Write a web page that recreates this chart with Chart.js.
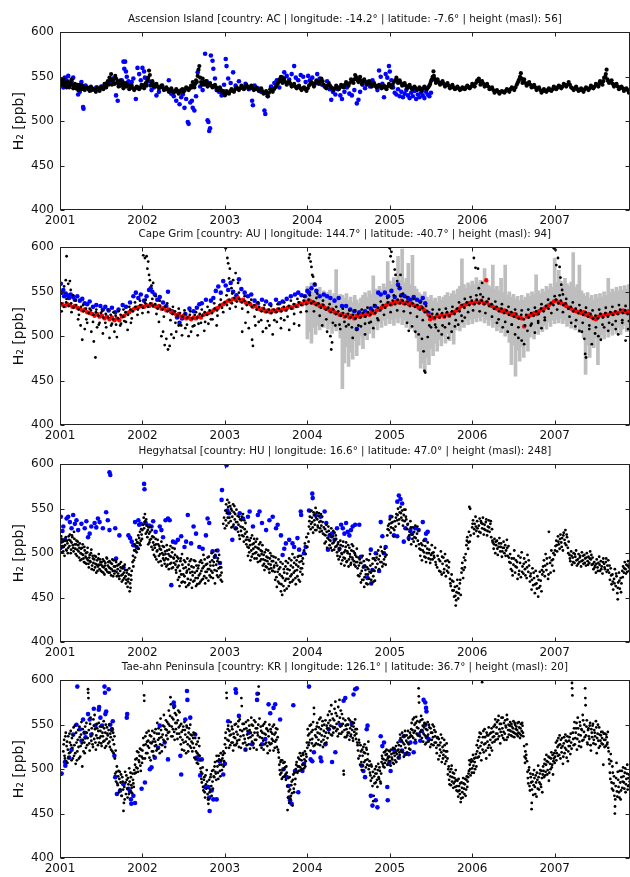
<!DOCTYPE html>
<html>
<head>
<meta charset="utf-8">
<script src="https://cdn.jsdelivr.net/npm/chart.js@4/dist/chart.umd.min.js"></script>
<style>
  html, body { margin: 0; padding: 0; background: #fff; width: 630px; height: 877px; overflow: hidden; }
  canvas { position: absolute; left: 0; }
</style>
</head>
<body>
<canvas id="asc" width="632" height="230" style="top:0px"></canvas>
<canvas id="cgo" width="632" height="230" style="top:215px"></canvas>
<canvas id="hun" width="632" height="230" style="top:432px"></canvas>
<canvas id="kor" width="632" height="230" style="top:648px"></canvas>
<script>
// Time axis: years since 2000 (1.00 = start of 2001). Values: H2 mole fraction in ppb.
const YEAR_TICKS  = [1, 2, 3, 4, 5, 6, 7];
const YEAR_LABELS = ['2001', '2002', '2003', '2004', '2005', '2006', '2007'];
const PPB_TICKS   = [400, 450, 500, 550, 600];

const TITLES = [
  'Ascension Island [country: AC | longitude: -14.2\u00b0 | latitude: -7.6\u00b0 | height (masl): 56]',
  'Cape Grim [country: AU | longitude: 144.7\u00b0 | latitude: -40.7\u00b0 | height (masl): 94]',
  'Hegyhatsal [country: HU | longitude: 16.6\u00b0 | latitude: 47.0\u00b0 | height (masl): 248]',
  'Tae-ahn Peninsula [country: KR | longitude: 126.1\u00b0 | latitude: 36.7\u00b0 | height (masl): 20]'
];

// ---- Ascension Island: flat lists of (year, ppb) pairs ----
const ASC_BLACK = [
1.00,545, 1.02,541, 1.04,548, 1.06,543, 1.08,538, 1.10,544, 1.12,540, 1.14,547, 1.16,537, 1.18,542, 1.20,539, 1.22,535,
1.24,541, 1.26,536, 1.28,539, 1.30,535, 1.33,538, 1.36,534, 1.39,537, 1.42,535, 1.45,538, 1.48,534, 1.51,539, 1.54,542,
1.56,538, 1.58,545, 1.60,549, 1.62,553, 1.63,541, 1.65,547, 1.67,551, 1.69,543, 1.71,539, 1.73,546, 1.75,541, 1.77,537,
1.79,543, 1.81,539, 1.84,536, 1.87,540, 1.90,535, 1.93,539, 1.96,536, 1.99,541, 2.02,537, 2.04,543, 2.06,546, 2.08,557,
2.09,552, 2.10,540, 2.12,545, 2.14,539, 2.17,542, 2.20,537, 2.23,540, 2.26,535, 2.29,538, 2.32,533, 2.35,537, 2.38,532,
2.41,536, 2.44,531, 2.47,535, 2.50,533, 2.53,538, 2.56,535, 2.59,540, 2.61,544, 2.63,538, 2.65,546, 2.67,551, 2.68,558,
2.69,562, 2.71,544, 2.73,548, 2.75,541, 2.77,545, 2.79,539, 2.82,543, 2.85,538, 2.88,541, 2.91,535, 2.94,538, 2.97,532,
3.00,529, 3.02,534, 3.05,531, 3.08,536, 3.11,533, 3.14,538, 3.17,535, 3.20,540, 3.23,536, 3.26,541, 3.29,537, 3.32,540,
3.35,535, 3.38,538, 3.41,534, 3.44,537, 3.47,531, 3.50,534, 3.52,528, 3.55,536, 3.58,533, 3.61,538, 3.64,542, 3.66,547,
3.68,550, 3.70,543, 3.72,548, 3.75,541, 3.78,545, 3.81,539, 3.84,542, 3.87,537, 3.90,540, 3.93,535, 3.96,538, 3.99,534,
4.02,540, 4.05,544, 4.08,539, 4.11,546, 4.14,542, 4.17,548, 4.20,541, 4.23,537, 4.26,543, 4.29,538, 4.32,535, 4.35,540,
4.38,536, 4.41,541, 4.44,538, 4.47,544, 4.50,540, 4.53,547, 4.56,543, 4.58,552, 4.60,548, 4.62,544, 4.64,550, 4.66,542,
4.69,547, 4.72,541, 4.75,545, 4.78,539, 4.81,543, 4.84,538, 4.87,541, 4.90,537, 4.93,540, 4.96,536, 4.99,542, 5.02,538,
5.05,544, 5.08,549, 5.10,543, 5.12,546, 5.15,540, 5.18,543, 5.21,537, 5.24,541, 5.27,536, 5.30,539, 5.33,535, 5.36,538,
5.39,534, 5.42,539, 5.45,536, 5.48,540, 5.50,545, 5.52,550, 5.53,556, 5.54,548, 5.56,543, 5.58,547, 5.61,541, 5.64,545,
5.67,539, 5.70,543, 5.73,537, 5.76,541, 5.79,536, 5.82,539, 5.85,535, 5.88,538, 5.91,536, 5.94,540, 5.97,537, 6.00,542,
6.03,539, 6.06,546, 6.08,548, 6.10,541, 6.12,545, 6.15,539, 6.18,542, 6.21,536, 6.24,538, 6.27,532, 6.30,535, 6.33,531,
6.36,534, 6.39,532, 6.42,536, 6.45,533, 6.48,538, 6.51,535, 6.54,541, 6.56,545, 6.58,550, 6.59,554, 6.61,543, 6.63,547,
6.66,540, 6.69,544, 6.72,538, 6.75,541, 6.78,535, 6.81,538, 6.84,532, 6.87,536, 6.90,533, 6.93,537, 6.96,534, 6.99,539,
7.02,536, 7.05,540, 7.08,537, 7.11,542, 7.14,539, 7.17,544, 7.20,538, 7.23,535, 7.26,539, 7.29,534, 7.32,537, 7.35,533,
7.38,538, 7.41,535, 7.44,540, 7.47,537, 7.50,542, 7.53,539, 7.55,545, 7.58,541, 7.60,549, 7.62,553, 7.63,558, 7.64,547,
7.66,543, 7.69,546, 7.72,539, 7.75,542, 7.78,536, 7.81,539, 7.84,534, 7.87,537, 7.90,532,
1.01,543, 1.03,545, 1.05,540, 1.07,544, 1.09,542, 1.11,538, 1.13,543, 1.15,541, 1.17,539, 1.19,537, 1.21,541, 1.23,538,
1.25,538, 1.27,540, 1.29,536, 1.31,538, 1.345,536, 1.375,539, 1.405,536, 1.435,533, 1.465,536, 1.495,537, 1.525,536,
1.55,540, 1.57,543, 1.59,541, 1.61,546, 1.64,545, 1.66,542, 1.68,548, 1.70,545, 1.72,542, 1.74,540, 1.76,544, 1.78,540,
1.80,542, 1.825,541, 1.855,538, 1.885,537, 1.915,537, 1.945,538, 1.975,538, 2.005,540, 2.03,541, 2.05,540, 2.07,549,
2.11,543, 2.13,542, 2.155,541, 2.185,539, 2.215,538, 2.245,538, 2.275,536, 2.305,536, 2.335,535, 2.365,534, 2.395,534,
2.425,533, 2.455,533, 2.485,536, 2.515,535, 2.545,537, 2.575,537, 2.60,538, 2.62,541, 2.64,542, 2.66,544, 2.70,549,
2.72,541, 2.74,544, 2.76,543, 2.78,542, 2.805,541, 2.835,540, 2.865,539, 2.895,538, 2.925,537, 2.955,535, 2.985,534,
3.01,531, 3.035,532, 3.065,534, 3.095,534, 3.125,536, 3.155,537, 3.185,537, 3.215,538, 3.245,538, 3.275,539, 3.305,538,
3.335,537, 3.365,536, 3.395,536, 3.425,535, 3.455,534, 3.485,532, 3.51,531, 3.535,532, 3.565,534, 3.595,536, 3.625,540,
3.65,544, 3.67,545, 3.69,546, 3.71,546, 3.735,544, 3.765,543, 3.795,542, 3.825,540, 3.855,539, 3.885,539, 3.915,537,
3.945,537, 3.975,536, 4.005,537, 4.035,542, 4.065,542, 4.095,543, 4.125,544, 4.155,545, 4.185,545, 4.215,539, 4.245,540,
4.275,540, 4.305,537, 4.335,537, 4.365,538, 4.395,538, 4.425,539, 4.455,541, 4.485,542, 4.515,543, 4.545,545, 4.57,547,
4.59,550, 4.61,546, 4.63,547, 4.65,546, 4.675,545, 4.705,544, 4.735,543, 4.765,542, 4.795,541, 4.825,540, 4.855,539,
4.885,539, 4.915,538, 4.945,538, 4.975,539, 5.005,540, 5.035,541, 5.065,546, 5.09,546, 5.11,544, 5.135,543, 5.165,541,
5.195,540, 5.225,539, 5.255,538, 5.285,537, 5.315,537, 5.345,536, 5.375,536, 5.405,537, 5.435,537, 5.465,538, 5.49,542,
5.51,547, 5.535,551, 5.55,546, 5.57,545, 5.595,544, 5.625,543, 5.655,542, 5.685,541, 5.715,540, 5.745,539, 5.775,538,
5.805,537, 5.835,537, 5.865,536, 5.895,537, 5.925,538, 5.955,538, 5.985,539, 6.015,540, 6.045,543, 6.07,545, 6.09,545,
6.11,543, 6.135,542, 6.165,540, 6.195,539, 6.225,537, 6.255,535, 6.285,534, 6.315,533, 6.345,533, 6.375,533, 6.405,534,
6.435,535, 6.465,536, 6.495,537, 6.525,538, 6.55,543, 6.57,547, 6.60,548, 6.62,545, 6.645,543, 6.675,542, 6.705,541,
6.735,539, 6.765,538, 6.795,537, 6.825,535, 6.855,534, 6.885,534, 6.915,535, 6.945,535, 6.975,536, 7.005,537, 7.035,538,
7.065,539, 7.095,539, 7.125,541, 7.155,541, 7.185,541, 7.215,537, 7.245,537, 7.275,536, 7.305,535, 7.335,535, 7.365,536,
7.395,537, 7.425,537, 7.455,538, 7.485,539, 7.515,541, 7.54,542, 7.565,543, 7.59,545, 7.615,550, 7.65,545, 7.675,544,
7.705,542, 7.735,541, 7.765,539, 7.795,538, 7.825,537, 7.855,536, 7.885,535, 7.91,533
];
const ASC_BLUE = [
1.00,547, 1.01,541, 1.03,544, 1.04,538, 1.06,549, 1.08,546, 1.10,551, 1.12,543, 1.14,545, 1.16,549, 1.18,540, 1.20,538,
1.22,530, 1.24,533, 1.26,544, 1.28,516, 1.285,514, 1.31,540, 1.34,537, 1.38,535, 1.44,538, 1.50,539, 1.56,541, 1.60,543,
1.64,548, 1.68,529, 1.70,523, 1.72,540, 1.75,546, 1.77,567, 1.79,567, 1.78,559, 1.80,556, 1.81,550, 1.83,545, 1.85,541,
1.87,544, 1.89,548, 1.92,525, 1.94,560, 1.96,553, 1.98,546, 2.00,560, 2.02,556, 2.03,549, 2.05,541, 2.08,545, 2.11,535,
2.14,538, 2.17,529, 2.20,533, 2.24,540, 2.28,536, 2.32,546, 2.35,531, 2.38,528, 2.41,523, 2.43,534, 2.45,519, 2.47,527,
2.49,530, 2.51,515, 2.53,525, 2.55,499, 2.56,497, 2.58,521, 2.60,523, 2.61,515, 2.63,512, 2.65,528, 2.67,555, 2.70,539,
2.73,535, 2.76,576, 2.78,545, 2.79,501, 2.80,499, 2.81,489, 2.82,492, 2.83,574, 2.85,568, 2.86,559, 2.88,548, 2.90,535,
2.93,533, 2.96,529, 2.99,541, 3.01,570, 3.02,562, 3.04,548, 3.07,543, 3.10,555, 3.13,540, 3.17,545, 3.21,538, 3.25,542,
3.29,536, 3.33,523, 3.34,518, 3.36,540, 3.40,537, 3.44,533, 3.48,512, 3.49,508, 3.52,528, 3.56,539, 3.60,543, 3.63,546,
3.66,538, 3.70,549, 3.72,555, 3.75,551, 3.78,547, 3.81,553, 3.84,562, 3.86,549, 3.89,546, 3.92,552, 3.95,550, 3.98,544,
4.01,551, 4.03,546, 4.06,549, 4.09,542, 4.12,553, 4.15,548, 4.18,541, 4.21,539, 4.24,545, 4.27,536, 4.29,524, 4.31,533,
4.34,530, 4.37,536, 4.40,529, 4.42,525, 4.45,533, 4.48,538, 4.51,531, 4.54,529, 4.57,535, 4.60,520, 4.62,524, 4.64,533,
4.67,541, 4.70,537, 4.73,544, 4.76,539, 4.79,546, 4.82,540, 4.85,535, 4.87,557, 4.89,550, 4.91,542, 4.93,527, 4.95,553,
4.97,549, 4.99,562, 5.00,556, 5.02,546, 5.04,538, 5.06,532, 5.08,530, 5.10,536, 5.12,528, 5.14,533, 5.16,527, 5.18,531,
5.20,535, 5.22,529, 5.24,526, 5.26,532, 5.28,528, 5.30,534, 5.32,525, 5.34,530, 5.36,527, 5.38,532, 5.40,529, 5.42,526,
5.44,533, 5.46,530, 5.48,528, 5.50,532
];

// ---- Cape Grim ----
const CGO_RED = [
1.00,535, 1.03,536, 1.06,534, 1.09,536, 1.12,535, 1.15,533, 1.18,534, 1.21,532, 1.24,531, 1.27,529, 1.30,530, 1.33,527,
1.36,526, 1.39,525, 1.42,523, 1.45,525, 1.48,522, 1.51,523, 1.54,520, 1.57,522, 1.60,519, 1.63,521, 1.66,518, 1.69,520,
1.72,518, 1.75,522, 1.78,523, 1.81,526, 1.84,527, 1.87,529, 1.90,531, 1.93,532, 1.96,533, 1.99,534, 2.02,533, 2.05,535,
2.08,534, 2.11,536, 2.14,534, 2.17,533, 2.20,534, 2.23,531, 2.26,532, 2.29,529, 2.32,530, 2.35,527, 2.38,526, 2.41,524,
2.44,525, 2.47,522, 2.50,523, 2.53,520, 2.56,521, 2.59,519, 2.62,521, 2.65,520, 2.68,522, 2.71,521, 2.74,524, 2.77,525,
2.80,526, 2.83,527, 2.86,529, 2.89,531, 2.92,532, 2.95,535, 2.98,536, 3.01,538, 3.04,540, 3.07,539, 3.10,542, 3.13,541,
3.16,543, 3.19,540, 3.22,541, 3.25,538, 3.28,537, 3.31,536, 3.34,533, 3.37,534, 3.40,531, 3.43,530, 3.46,531, 3.49,528,
3.52,529, 3.55,527, 3.58,529, 3.61,528, 3.64,530, 3.67,529, 3.70,531, 3.73,530, 3.76,532, 3.79,533, 3.82,532, 3.85,535,
3.88,534, 3.91,537, 3.94,536, 3.97,539, 4.00,538, 4.03,540, 4.06,538, 4.09,537, 4.12,536, 4.15,534, 4.18,535, 4.21,532,
4.24,531, 4.27,529, 4.30,530, 4.33,527, 4.36,526, 4.39,524, 4.42,525, 4.45,522, 4.48,524, 4.51,521, 4.54,523, 4.57,520,
4.60,523, 4.63,522, 4.66,524, 4.69,523, 4.72,525, 4.75,524, 4.78,527, 4.81,526, 4.84,529, 4.87,530, 4.90,532, 4.93,534,
4.96,535, 4.99,537, 5.02,536, 5.05,538, 5.08,539, 5.11,538, 5.14,540, 5.17,537, 5.20,538, 5.23,536, 5.26,537, 5.29,535,
5.32,534, 5.35,532, 5.38,533, 5.41,530, 5.44,528, 5.47,524, 5.49,519, 5.51,521, 5.54,520, 5.57,523, 5.60,522, 5.63,524,
5.66,522, 5.69,525, 5.72,523, 5.75,526, 5.78,527, 5.81,529, 5.84,531, 5.87,534, 5.90,535, 5.93,536, 5.96,537, 5.99,538,
6.02,537, 6.05,539, 6.08,538, 6.11,540, 6.14,537, 6.17,563, 6.18,538, 6.21,535, 6.24,534, 6.27,532, 6.30,531, 6.33,530,
6.36,528, 6.39,529, 6.42,527, 6.45,526, 6.48,524, 6.51,525, 6.54,522, 6.57,521, 6.60,520, 6.63,511, 6.66,522, 6.69,523,
6.72,524, 6.75,526, 6.78,525, 6.81,528, 6.84,530, 6.87,531, 6.90,533, 6.93,535, 6.96,537, 6.99,539, 7.02,540, 7.05,538,
7.08,537, 7.11,536, 7.14,534, 7.17,532, 7.20,531, 7.23,529, 7.26,528, 7.29,527, 7.32,526, 7.35,527, 7.38,524, 7.41,525,
7.44,522, 7.47,520, 7.50,519, 7.53,522, 7.56,524, 7.59,523, 7.62,525, 7.65,524, 7.68,526, 7.71,525, 7.74,527, 7.77,526,
7.80,528, 7.83,529, 7.86,527, 7.89,528
];
const CGO_BLACK = [
1.015,537, 1.045,533, 1.075,538, 1.105,534, 1.135,537, 1.165,532, 1.195,535, 1.225,530, 1.255,533, 1.285,528, 1.315,531,
1.345,526, 1.375,529, 1.405,524, 1.435,527, 1.465,523, 1.495,526, 1.525,521, 1.555,525, 1.585,521, 1.615,524, 1.645,519,
1.675,523, 1.705,520, 1.735,524, 1.765,522, 1.795,527, 1.825,524, 1.855,530, 1.885,528, 1.915,533, 1.945,530, 1.975,535,
2.005,532, 2.035,537, 2.065,533, 2.095,537, 2.125,534, 2.155,536, 2.185,531, 2.215,534, 2.245,530, 2.275,533, 2.305,528,
2.335,530, 2.365,525, 2.395,528, 2.425,523, 2.455,526, 2.485,522, 2.515,525, 2.545,521, 2.575,524, 2.605,520, 2.635,524,
2.665,521, 2.695,525, 2.725,523, 2.755,527, 2.785,524, 2.815,529, 2.845,526, 2.875,531, 2.905,529, 2.935,535, 2.965,532,
2.995,538, 3.025,535, 3.055,541, 3.085,537, 3.115,543, 3.145,539, 3.175,542, 3.205,538, 3.235,540, 3.265,535, 3.295,538,
3.325,533, 3.355,535, 3.385,530, 3.415,533, 3.445,528, 3.475,531, 3.505,527, 3.535,530, 3.565,526, 3.595,530, 3.625,527,
3.655,531, 3.685,528, 3.715,533, 3.745,529, 3.775,534, 3.805,531, 3.835,536, 3.865,533, 3.895,538, 3.925,535, 3.955,540,
3.985,536, 4.015,541, 4.045,537, 4.075,539, 4.105,535, 4.135,537, 4.165,532, 4.195,535, 4.225,530, 4.255,532, 4.285,527,
4.315,530, 4.345,525, 4.375,528, 4.405,523, 4.435,526, 4.465,522, 4.495,525, 4.525,521, 4.555,524, 4.585,520, 4.615,525,
4.645,521, 4.675,526, 4.705,522, 4.735,527, 4.765,524, 4.795,529, 4.825,526, 4.855,532, 4.885,529, 4.915,535, 4.945,532,
4.975,538, 5.005,535, 5.035,540, 5.065,536, 5.095,541, 5.125,537, 5.155,540, 5.185,536, 5.215,539, 5.245,534, 5.275,537,
5.305,533, 5.335,535, 5.365,530, 5.395,532, 5.425,527, 5.455,528, 5.485,522, 5.515,525, 5.545,521, 5.575,525, 5.605,521,
5.635,526, 5.665,522, 5.695,527, 5.725,523, 5.755,528, 5.785,525, 5.815,531, 5.845,528, 5.875,535, 5.905,532, 5.935,538,
5.965,535, 5.995,540, 6.025,536, 6.055,541, 6.085,537, 6.115,540, 6.145,536, 6.175,539, 6.205,534, 6.235,536, 6.265,531,
6.295,533, 6.325,528, 6.355,531, 6.385,526, 6.415,529, 6.445,524, 6.475,527, 6.505,522, 6.535,525, 6.565,520, 6.595,524,
6.625,519, 6.655,524, 6.685,521, 6.715,526, 6.745,523, 6.775,528, 6.805,525, 6.835,531, 6.865,528, 6.895,534, 6.925,531,
6.955,537, 6.985,535, 7.015,541, 7.045,537, 7.075,540, 7.105,535, 7.135,537, 7.165,531, 7.195,533, 7.225,528, 7.255,531,
7.285,526, 7.315,529, 7.345,524, 7.375,527, 7.405,522, 7.435,525, 7.465,520, 7.495,523, 7.525,520, 7.555,525, 7.585,521,
7.615,526, 7.645,522, 7.675,527, 7.705,524, 7.735,528, 7.765,525, 7.795,530, 7.825,526, 7.855,529, 7.885,525,
// values a little off the baseline
1.02,528, 1.08,542, 1.14,527, 1.19,540, 1.23,524, 1.28,535, 1.32,519, 1.36,531, 1.40,516, 1.44,530, 1.47,513, 1.51,528,
1.55,515, 1.58,530, 1.62,512, 1.65,527, 1.68,513, 1.71,528, 1.74,514, 1.77,530, 1.80,516, 1.84,533, 1.87,520, 1.91,538,
1.94,524, 1.97,540, 2.00,526, 2.04,541, 2.07,527, 2.12,542, 2.17,525, 2.21,540, 2.26,522, 2.30,537, 2.34,518, 2.37,533,
2.40,515, 2.44,531, 2.47,512, 2.51,529, 2.54,513, 2.58,528, 2.61,511, 2.65,527, 2.68,514, 2.72,530, 2.76,516, 2.79,533,
2.83,519, 2.87,537, 2.91,523, 2.95,541, 2.98,527, 3.02,546, 3.06,531, 3.09,548, 3.13,533, 3.17,549, 3.21,531, 3.24,545,
3.28,527, 3.32,541, 3.36,522, 3.40,538, 3.44,518, 3.48,535, 3.52,517, 3.56,534, 3.60,518, 3.64,536, 3.68,520, 3.72,538,
3.76,522, 3.80,540, 3.84,525, 3.88,542, 3.92,527, 3.96,545, 3.99,528, 4.03,546, 4.08,528, 4.11,543, 4.15,523, 4.19,540,
4.23,519, 4.27,536, 4.31,515, 4.35,533, 4.39,513, 4.43,531, 4.47,511, 4.51,529, 4.54,510, 4.58,529, 4.62,512, 4.66,530,
4.70,514, 4.73,532, 4.77,516, 4.81,535, 4.85,520, 4.89,539, 4.93,524, 4.97,543, 5.01,527, 5.05,546, 5.09,529, 5.13,545,
5.17,528, 5.21,544, 5.25,526, 5.29,542, 5.33,522, 5.37,538, 5.40,518, 5.44,534, 5.48,512, 5.52,530, 5.56,510, 5.60,530,
5.64,512, 5.68,531, 5.72,514, 5.76,533, 5.80,518, 5.84,538, 5.87,523, 5.91,542, 5.95,527, 5.98,544, 6.01,529, 6.05,546,
6.09,528, 6.13,544, 6.16,526, 6.20,542, 6.24,522, 6.28,539, 6.32,519, 6.36,536, 6.40,516, 6.44,533, 6.48,513, 6.52,530,
6.56,510, 6.60,529, 6.64,512, 6.68,530, 6.72,514, 6.76,532, 6.80,517, 6.84,536, 6.88,521, 6.92,541, 6.96,526, 7.00,545,
7.03,530, 7.06,546, 7.10,527, 7.14,542, 7.18,522, 7.22,538, 7.26,518, 7.30,535, 7.34,515, 7.38,532, 7.42,512, 7.46,529,
7.50,510, 7.54,530, 7.58,513, 7.62,532, 7.66,515, 7.70,533, 7.74,517, 7.78,535, 7.82,518, 7.86,534, 7.90,517,
// scattered values far from the baseline
1.05,556, 1.07,563, 1.08,590, 1.10,559, 1.12,562, 1.13,552, 1.16,546, 1.22,519, 1.25,512, 1.27,496, 1.30,508, 1.33,515,
1.38,505, 1.41,494, 1.43,476, 1.45,510, 1.48,515, 1.52,503, 1.56,510, 1.60,498, 1.63,514, 1.66,505, 1.69,499, 1.73,512,
1.78,517, 1.82,507, 1.86,515, 2.01,591, 2.03,588, 2.05,590, 2.06,576, 2.07,584, 2.08,569, 2.09,563, 2.11,557, 2.13,560,
2.16,545, 2.20,516, 2.23,500, 2.25,505, 2.27,490, 2.29,497, 2.31,485, 2.33,489, 2.35,502, 2.38,498, 2.41,505, 2.44,512,
2.48,501, 2.52,509, 2.56,500, 2.59,505, 2.63,512, 2.67,501, 2.71,515, 2.75,506, 2.80,514, 2.85,519, 2.90,512, 3.01,599,
3.03,588, 3.04,582, 3.06,576, 3.05,565, 3.08,554, 3.10,563, 3.13,571, 3.16,560, 3.21,505, 3.25,515, 3.29,509, 3.33,496,
3.34,489, 3.37,512, 3.41,516, 3.46,505, 3.50,509, 3.54,512, 3.58,502, 3.63,516, 3.68,509, 3.72,518, 3.78,507, 3.84,514,
3.90,512, 4.02,588, 4.03,592, 4.04,584, 4.05,578, 4.06,569, 4.07,567, 4.09,559, 4.12,548, 4.18,512, 4.24,505, 4.28,500,
4.30,493, 4.29,485, 4.34,512, 4.40,508, 4.45,516, 4.50,513, 4.55,498, 4.60,507, 4.65,511, 4.70,502, 4.75,515, 4.80,509,
4.86,518, 5.00,599, 5.02,595, 5.01,590, 5.04,584, 5.06,575, 5.07,569, 5.09,562, 5.11,556, 5.13,569, 5.16,548, 5.21,515,
5.23,506, 5.27,511, 5.31,505, 5.35,502, 5.39,497, 5.41,483, 5.42,461, 5.43,459, 5.46,499, 5.50,510, 5.55,513, 5.59,506,
5.63,502, 5.67,510, 5.71,498, 5.75,505, 5.79,511, 5.83,513, 5.88,517, 5.91,521, 6.02,588, 6.04,577, 6.07,576, 6.08,554,
6.10,547, 6.12,560, 6.30,515, 6.37,510, 6.43,505, 6.48,513, 6.52,502, 6.56,498, 6.60,495, 6.63,491, 6.67,506, 6.71,512,
6.76,504, 6.80,515, 6.84,509, 6.88,518, 6.99,599, 7.01,597, 7.02,580, 7.04,588, 7.06,578, 7.07,566, 7.08,558, 7.09,552,
7.10,547, 7.20,515, 7.25,511, 7.30,506, 7.33,505, 7.36,497, 7.37,480, 7.38,476, 7.42,508, 7.45,491, 7.49,503, 7.53,500,
7.56,496, 7.60,510, 7.65,506, 7.70,513, 7.74,508, 7.77,502, 7.82,515, 7.86,495, 7.89,508
];
const CGO_BLUE = [
1.01,559, 1.02,549, 1.04,552, 1.05,545, 1.07,548, 1.09,546, 1.11,543, 1.13,547, 1.16,544, 1.18,541, 1.21,545, 1.24,540,
1.27,542, 1.30,537, 1.33,536, 1.36,539, 1.40,533, 1.44,535, 1.49,534, 1.52,530, 1.55,533, 1.59,529, 1.63,532, 1.67,527,
1.71,530, 1.76,535, 1.80,533, 1.85,538, 1.89,545, 1.92,549, 1.95,543, 1.98,547, 2.02,540, 2.05,545, 2.08,552, 2.10,554,
2.12,550, 2.15,547, 2.18,541, 2.21,544, 2.25,538, 2.29,534, 2.31,550, 2.36,528, 2.42,521, 2.45,515, 2.48,520, 2.52,525,
2.57,531, 2.62,528, 2.66,532, 2.69,536, 2.72,537, 2.77,541, 2.83,540, 2.86,543, 2.89,551, 2.92,556, 2.95,549, 2.98,562,
3.01,557, 3.04,552, 3.07,560, 3.10,550, 3.14,546, 3.17,564, 3.20,553, 3.24,549, 3.28,545, 3.32,547, 3.36,540, 3.40,537,
3.45,541, 3.50,539, 3.55,536, 3.62,541, 3.66,537, 3.70,539, 3.75,542, 3.80,545, 3.85,547, 3.89,549, 3.93,546, 3.97,545,
4.00,551, 4.02,549, 4.05,554, 4.09,558, 4.11,551, 4.15,545, 4.20,547, 4.24,545, 4.28,543, 4.33,540, 4.38,543, 4.42,534,
4.47,534, 4.52,530, 4.57,528, 4.60,508, 4.63,527, 4.70,528, 4.77,531, 4.82,534, 4.86,549, 4.89,547, 4.94,549, 4.98,545,
5.02,551, 5.06,544, 5.10,558, 5.12,554, 5.14,546, 5.18,545, 5.22,543, 5.25,541, 5.29,544, 5.33,541, 5.37,539, 5.40,543,
5.43,537, 5.47,526
];
// Continuous in-situ record: per-sample (year, lowest ppb, highest ppb) spread
const CGO_GRAY = [
4.000,497,556, 4.025,505,552, 4.050,492,560, 4.075,510,549, 4.100,502,553, 4.125,512,550, 4.150,507,555, 4.175,515,548,
4.200,510,551, 4.225,517,546, 4.250,508,549, 4.275,514,552, 4.300,503,545, 4.325,512,548, 4.350,506,575, 4.375,510,544,
4.400,498,547, 4.425,441,546, 4.450,470,543, 4.475,488,548, 4.500,466,540, 4.525,482,544, 4.550,474,538, 4.575,495,546,
4.600,478,541, 4.625,490,537, 4.650,500,543, 4.675,486,546, 4.700,505,549, 4.725,496,544, 4.750,503,551, 4.775,510,547,
4.800,498,568, 4.825,512,553, 4.850,507,549, 4.875,515,556, 4.900,510,552, 4.925,518,559, 4.950,512,555, 4.975,520,584,
5.000,514,562, 5.025,519,558, 5.050,512,566, 5.075,520,561, 5.100,515,590, 5.125,521,563, 5.150,513,598, 5.175,518,560,
5.200,510,565, 5.225,516,582, 5.250,508,558, 5.275,514,591, 5.300,505,556, 5.325,498,553, 5.350,483,549, 5.375,464,547,
5.400,470,545, 5.425,460,550, 5.450,476,544, 5.475,468,541, 5.500,486,546, 5.525,478,540, 5.550,492,543, 5.575,483,538,
5.600,496,545, 5.625,489,541, 5.650,500,544, 5.675,492,546, 5.700,503,549, 5.725,495,545, 5.750,505,548, 5.775,491,551,
5.800,507,547, 5.825,512,553, 5.850,506,556, 5.875,515,587, 5.900,510,558, 5.925,518,554, 5.950,513,560, 5.975,519,557,
6.000,514,562, 6.025,520,558, 6.050,516,566, 6.075,521,560, 6.100,517,563, 6.125,522,559, 6.150,515,576, 6.175,519,561,
6.200,512,557, 6.225,518,555, 6.250,510,580, 6.275,514,553, 6.300,506,556, 6.325,511,551, 6.350,504,565, 6.375,509,549,
6.400,500,580, 6.425,505,546, 6.450,493,550, 6.475,468,544, 6.500,490,547, 6.525,455,542, 6.550,484,545, 6.575,472,540,
6.600,488,546, 6.625,476,541, 6.650,494,544, 6.675,483,548, 6.700,499,545, 6.725,505,550, 6.750,497,547, 6.775,508,569,
6.800,502,551, 6.825,510,548, 6.850,505,553, 6.875,512,550, 6.900,508,556, 6.925,516,553, 6.950,511,559, 6.975,518,555,
7.000,514,588, 7.025,519,560, 7.050,515,574, 7.075,520,562, 7.100,514,558, 7.125,518,565, 7.150,511,559, 7.175,517,556,
7.200,509,561, 7.225,515,594, 7.250,507,555, 7.275,512,558, 7.300,504,580, 7.325,508,551, 7.350,498,548, 7.375,457,545,
7.400,490,549, 7.425,476,543, 7.450,494,546, 7.475,487,541, 7.500,498,547, 7.525,468,543, 7.550,496,548, 7.575,502,544,
7.600,497,550, 7.625,505,546, 7.650,499,565, 7.675,507,549, 7.700,501,553, 7.725,509,550, 7.750,503,555, 7.775,510,551,
7.800,502,556, 7.825,508,552, 7.850,512,557, 7.875,505,553, 7.900,510,558
];

// ---- Hegyhatsal ----
const HUN_BLACK = [
1.00,512, 1.01,505, 1.02,516, 1.03,508, 1.04,502, 1.05,514, 1.06,509, 1.07,518, 1.08,503, 1.09,511, 1.10,506,
1.11,515, 1.12,521, 1.13,500, 1.14,512, 1.15,518, 1.16,506, 1.17,524, 1.18,510, 1.19,499, 1.20,514,
1.21,504, 1.22,509, 1.23,495, 1.24,511, 1.25,500, 1.26,493, 1.27,506, 1.28,498, 1.29,490, 1.30,503,
1.31,496, 1.32,488, 1.33,501, 1.34,492, 1.35,484, 1.36,498, 1.37,490, 1.38,504, 1.39,486, 1.40,494,
1.41,481, 1.42,497, 1.43,488, 1.44,478, 1.45,492, 1.46,485, 1.47,499, 1.48,482, 1.49,490, 1.50,487,
1.51,479, 1.52,493, 1.53,484, 1.54,476, 1.55,489, 1.56,481, 1.57,494, 1.58,486, 1.59,478, 1.60,491,
1.61,483, 1.62,475, 1.63,488, 1.64,480, 1.65,492, 1.66,477, 1.67,485, 1.68,490, 1.69,474, 1.70,482,
1.71,487, 1.72,471, 1.73,480, 1.74,490, 1.75,468, 1.76,476, 1.77,485, 1.78,472, 1.79,481, 1.80,466,
1.81,478, 1.82,462, 1.83,471, 1.84,483, 1.845,457, 1.85,466, 1.86,475, 1.87,480,
1.88,490, 1.885,497, 1.89,485, 1.90,503, 1.905,510, 1.91,495, 1.92,508, 1.925,515, 1.93,501,
1.94,512, 1.95,520, 1.955,505, 1.96,517, 1.97,524, 1.975,509, 1.98,514, 1.99,521, 2.00,526,
2.01,532, 2.015,540, 2.02,528, 2.03,544, 2.035,536, 2.04,522, 2.05,531,
2.06,518, 2.065,526, 2.07,510, 2.08,522, 2.09,515, 2.10,530, 2.11,507, 2.12,519,
2.13,512, 2.14,498, 2.15,506, 2.16,516, 2.17,493, 2.18,503, 2.19,510, 2.20,497, 2.21,505, 2.22,491, 2.23,513, 2.24,500, 2.25,494,
2.26,507, 2.27,488, 2.28,499, 2.29,485, 2.30,503, 2.31,493, 2.32,482, 2.33,497, 2.34,508, 2.35,489, 2.36,501, 2.37,484, 2.38,494, 2.39,505, 2.40,487,
2.41,478, 2.42,496, 2.43,470, 2.44,486, 2.45,463, 2.46,491, 2.47,476, 2.48,499, 2.49,468, 2.50,483, 2.51,474, 2.52,490, 2.53,462, 2.54,480, 2.55,471,
2.56,487, 2.57,466, 2.58,478, 2.59,493, 2.60,461, 2.61,475, 2.62,484, 2.63,469, 2.64,491, 2.65,463, 2.66,480, 2.67,472, 2.68,486, 2.69,466, 2.70,477,
2.71,492, 2.72,470, 2.73,483, 2.74,498, 2.75,474, 2.76,466, 2.77,487, 2.78,479, 2.79,495, 2.80,469, 2.81,482, 2.82,490, 2.83,473, 2.84,500, 2.85,478,
2.86,486, 2.87,495, 2.88,466, 2.89,503, 2.90,480, 2.91,491, 2.92,473, 2.93,498, 2.94,484, 2.95,470, 2.96,478, 2.965,468,
2.98,533, 2.99,540, 3.00,528, 3.005,548, 3.01,537, 3.015,555, 3.02,531, 3.025,545, 3.03,560, 3.035,540, 3.04,552, 3.045,534, 3.05,557,
3.06,545, 3.07,536, 3.075,550, 3.08,529, 3.09,541, 3.10,555, 3.105,532, 3.11,546, 3.12,538, 3.13,527, 3.14,549, 3.15,535,
3.16,524, 3.17,541, 3.18,516, 3.19,530, 3.20,537, 3.21,520, 3.22,544, 3.23,513, 3.24,527, 3.25,534,
3.26,510, 3.27,518, 3.28,497, 3.29,506, 3.30,514, 3.31,492, 3.32,503, 3.33,520, 3.34,499, 3.35,511, 3.36,494, 3.37,507, 3.38,501, 3.39,516, 3.40,490,
3.41,505, 3.42,497, 3.43,512, 3.44,493, 3.45,502,
3.46,486, 3.47,498, 3.48,481, 3.49,492, 3.50,504, 3.51,484, 3.52,495, 3.53,488, 3.54,478, 3.55,500, 3.56,483, 3.57,491, 3.58,480, 3.59,496, 3.60,486,
3.61,470, 3.62,489, 3.63,462, 3.64,479, 3.65,493, 3.66,466, 3.67,484, 3.68,457, 3.69,474, 3.695,453, 3.70,488, 3.71,463, 3.72,478, 3.73,469, 3.74,491, 3.75,460,
3.76,482, 3.77,471, 3.78,494, 3.79,467, 3.80,486, 3.81,476, 3.82,499, 3.83,470, 3.84,489, 3.85,480, 3.86,465, 3.87,492, 3.88,474, 3.89,485, 3.90,497,
3.91,468, 3.92,483, 3.93,491, 3.94,476, 3.95,488,
3.96,503, 3.97,511, 3.98,499, 3.99,518, 4.00,507, 4.01,522, 4.015,513,
4.02,530, 4.03,541, 4.04,527, 4.05,548, 4.06,535, 4.07,523, 4.08,543, 4.09,532, 4.10,551, 4.11,526, 4.12,538, 4.13,529, 4.14,545, 4.15,524, 4.16,536,
4.17,531, 4.18,541, 4.19,522,
4.20,529, 4.21,511, 4.22,520, 4.23,532, 4.24,506, 4.25,517, 4.26,525, 4.27,509, 4.28,514, 4.29,528, 4.30,503, 4.31,519, 4.32,512, 4.33,523, 4.34,507, 4.35,516,
4.36,501, 4.37,510, 4.38,493, 4.39,505, 4.40,514, 4.41,488, 4.42,499, 4.43,508, 4.44,495, 4.45,486, 4.46,503, 4.47,512, 4.48,491, 4.49,500, 4.50,485,
4.51,506, 4.52,496, 4.53,489, 4.54,510, 4.55,493, 4.56,502, 4.57,487, 4.58,498, 4.59,490, 4.60,505,
4.61,483, 4.62,495, 4.63,474, 4.64,489, 4.65,467, 4.66,480, 4.67,497, 4.68,470, 4.69,462, 4.70,486, 4.71,476, 4.72,493, 4.73,465, 4.74,482, 4.75,471,
4.76,499, 4.77,478, 4.78,466, 4.79,488, 4.80,474, 4.81,494, 4.82,469, 4.83,484,
4.84,495, 4.85,488, 4.86,503, 4.87,482, 4.88,497, 4.89,507, 4.90,490, 4.91,485, 4.92,500, 4.93,493, 4.94,505, 4.95,487, 4.96,498,
4.97,520, 4.98,531, 4.99,526, 5.00,538, 5.01,523, 5.02,534, 5.03,541, 5.04,528, 5.05,519, 5.06,536, 5.07,530,
5.08,544, 5.09,537, 5.10,550, 5.11,533, 5.12,546, 5.13,552, 5.14,540, 5.15,548, 5.16,531, 5.17,543, 5.18,536, 5.19,549, 5.20,538,
5.21,527, 5.22,533, 5.23,515, 5.24,524, 5.25,536, 5.26,510, 5.27,521, 5.28,529, 5.29,513, 5.30,518, 5.31,531, 5.32,508, 5.33,522, 5.34,514, 5.35,526,
5.36,505, 5.37,497, 5.38,511, 5.39,492, 5.40,503, 5.41,514, 5.42,496, 5.43,508, 5.44,490, 5.45,500, 5.46,512, 5.47,494, 5.48,504, 5.49,489, 5.50,498,
5.51,509, 5.52,493, 5.53,501, 5.54,495, 5.55,506,
5.56,487, 5.58,497, 5.60,480, 5.61,491, 5.62,502, 5.63,476, 5.64,488, 5.65,495, 5.66,482, 5.67,499, 5.68,474, 5.69,486, 5.70,492, 5.71,478, 5.72,490,
5.73,471, 5.74,463, 5.75,476, 5.76,458, 5.77,468, 5.78,451, 5.79,462, 5.80,441, 5.805,447, 5.81,456, 5.82,470, 5.83,449, 5.84,460, 5.85,466, 5.86,453,
5.87,478, 5.88,489, 5.89,472, 5.90,495, 5.91,484, 5.92,499,
5.93,509, 5.94,518, 5.95,505, 5.96,524, 5.965,552, 5.97,513, 5.975,550, 5.98,520,
6.00,529, 6.01,537, 6.02,522, 6.03,533, 6.04,541, 6.05,525, 6.06,536, 6.07,519, 6.08,531, 6.09,539, 6.10,523, 6.11,534, 6.12,528, 6.13,540, 6.14,521,
6.15,532, 6.16,526, 6.17,538, 6.18,520, 6.19,530, 6.20,537, 6.21,524, 6.22,533, 6.23,518, 6.24,527,
6.25,512, 6.26,505, 6.27,516, 6.28,500, 6.29,509, 6.30,514, 6.31,498, 6.32,507, 6.33,517, 6.34,502, 6.35,511, 6.36,496, 6.37,506, 6.38,513, 6.39,500,
6.40,509, 6.41,503, 6.42,515, 6.43,497, 6.44,508,
6.45,490, 6.46,499, 6.47,482, 6.48,494, 6.49,475, 6.50,487, 6.51,503, 6.52,478, 6.53,492, 6.54,484, 6.55,471, 6.56,497, 6.57,480, 6.58,489, 6.59,473,
6.60,501, 6.61,485, 6.62,477, 6.63,494, 6.64,482, 6.65,490, 6.66,472, 6.67,498, 6.68,479, 6.69,486,
6.70,468, 6.71,477, 6.72,459, 6.73,483, 6.74,464, 6.75,472, 6.76,455, 6.77,480, 6.78,466, 6.79,474, 6.80,451, 6.81,461, 6.82,479, 6.83,469, 6.84,457, 6.85,476,
6.86,485, 6.87,492, 6.88,474, 6.89,499, 6.90,481, 6.91,488, 6.92,471, 6.93,524, 6.94,495, 6.95,478, 6.96,503, 6.97,486, 6.98,493, 6.99,480, 7.00,498,
7.01,508, 7.02,514, 7.03,502, 7.04,519, 7.05,510, 7.06,505, 7.07,521, 7.08,512, 7.09,517, 7.10,503, 7.11,523, 7.12,515, 7.13,526, 7.14,509, 7.15,518,
7.16,506, 7.17,513,
7.18,498, 7.19,491, 7.20,502, 7.21,487, 7.22,495, 7.23,500, 7.24,489, 7.25,496, 7.26,503, 7.27,486, 7.28,493, 7.29,499, 7.30,490, 7.31,497, 7.32,485,
7.33,501, 7.34,492, 7.35,488, 7.36,498, 7.37,494, 7.38,486, 7.39,500, 7.40,491, 7.41,496, 7.42,489, 7.43,502, 7.44,493, 7.45,487,
7.46,495, 7.47,482, 7.48,490, 7.49,486, 7.50,478, 7.51,493, 7.52,484, 7.53,489, 7.54,496, 7.55,480, 7.56,491, 7.57,485, 7.58,477, 7.59,494, 7.60,488,
7.61,482, 7.62,490, 7.63,479, 7.64,486, 7.65,492,
7.66,478, 7.67,470, 7.68,483, 7.69,465, 7.70,476, 7.71,459, 7.72,471, 7.73,482, 7.74,463, 7.75,474, 7.76,455, 7.765,448, 7.77,467, 7.78,478, 7.79,460,
7.80,472, 7.81,466, 7.82,480,
7.83,485, 7.84,478, 7.85,490, 7.86,482, 7.87,487, 7.88,479, 7.89,491, 7.90,484, 7.91,488,
1.005,508, 1.015,519, 1.025,501, 1.035,513, 1.045,507, 1.055,497, 1.065,515, 1.075,504, 1.085,514, 1.095,500, 1.105,519,
1.115,508, 1.125,514, 1.135,504, 1.145,520, 1.155,509, 1.165,502, 1.175,516, 1.185,505, 1.195,510, 1.205,497, 1.215,513,
1.225,502, 1.235,506, 1.245,492, 1.255,505, 1.265,499, 1.275,510, 1.285,494, 1.295,507, 1.305,489, 1.315,500, 1.325,494,
1.335,506, 1.345,488, 1.355,495, 1.365,491, 1.375,500, 1.385,482, 1.395,497, 1.405,489, 1.415,493, 1.425,484, 1.435,496,
1.445,487, 1.455,480, 1.465,494, 1.475,487, 1.485,493, 1.495,480, 1.505,490, 1.515,485, 1.525,478, 1.535,491, 1.545,486,
1.555,482, 1.565,495, 1.575,479, 1.585,490, 1.595,484, 1.605,478, 1.615,489, 1.625,482, 1.635,493, 1.645,474, 1.655,485,
1.665,480, 1.675,492, 1.685,479, 1.695,486, 1.705,477, 1.715,474, 1.725,488, 1.735,484, 1.745,475, 1.755,483, 1.765,470,
1.775,478, 1.785,487, 1.795,474, 1.805,470, 1.815,481, 1.825,468, 1.835,476, 1.855,461, 1.865,470, 1.895,492, 1.915,503,
1.935,512, 1.945,505, 1.965,511, 1.985,527, 1.995,516, 2.025,535, 2.045,538, 2.055,524, 2.075,529, 2.085,512, 2.095,524,
2.105,516, 2.115,526, 2.125,504, 2.135,518, 2.145,509, 2.155,496, 2.165,510, 2.175,502, 2.185,515, 2.195,490, 2.205,508,
2.215,499, 2.225,504, 2.235,486, 2.245,508, 2.255,498, 2.265,492, 2.275,502, 2.285,494, 2.295,509, 2.305,487, 2.315,499,
2.325,504, 2.335,488, 2.345,496, 2.355,483, 2.365,506, 2.375,495, 2.385,489, 2.395,498, 2.405,481, 2.415,491, 2.425,484,
2.435,494, 2.445,473, 2.455,480, 2.465,494, 2.475,467, 2.485,487, 2.495,476, 2.505,492, 2.515,467, 2.525,484, 2.535,478,
2.545,494, 2.555,464, 2.565,482, 2.575,491, 2.585,470, 2.595,485, 2.605,479, 2.615,468, 2.625,492, 2.635,478, 2.645,472,
2.655,486, 2.665,465, 2.675,483, 2.685,475, 2.695,490, 2.705,468, 2.715,480, 2.725,489, 2.735,471, 2.745,485, 2.755,493,
2.765,479, 2.775,472, 2.785,488, 2.795,482, 2.805,496, 2.815,475, 2.825,486, 2.835,480, 2.845,492, 2.855,472, 2.865,490,
2.875,481, 2.885,498, 2.895,487, 2.905,475, 2.915,494, 2.925,483, 2.935,489, 2.945,475, 2.955,484, 3.055,540, 3.065,553,
3.085,548, 3.095,530, 3.115,553, 3.125,544, 3.135,535, 3.145,528, 3.155,542, 3.165,532, 3.175,520, 3.185,538, 3.195,525,
3.205,541, 3.215,529, 3.225,519, 3.235,537, 3.245,522, 3.255,515, 3.265,524, 3.275,507, 3.285,515, 3.295,501, 3.305,509,
3.315,517, 3.325,496, 3.335,510, 3.345,505, 3.355,516, 3.365,500, 3.375,513, 3.385,494, 3.395,506, 3.405,498, 3.415,510,
3.425,491, 3.435,503, 3.445,499, 3.455,509, 3.465,493, 3.475,488, 3.485,501, 3.495,485, 3.505,496, 3.515,491, 3.525,503,
3.535,482, 3.545,494, 3.555,487, 3.565,497, 3.575,480, 3.585,491, 3.595,484, 3.605,479, 3.615,495, 3.625,473, 3.635,486,
3.645,468, 3.655,482, 3.665,476, 3.675,490, 3.685,465, 3.705,472, 3.715,482, 3.725,458, 3.735,485, 3.745,471, 3.755,477,
3.765,489, 3.775,463, 3.785,481, 3.795,474, 3.805,492, 3.815,468, 3.825,484, 3.835,478, 3.845,495, 3.855,472, 3.865,487,
3.875,481, 3.885,496, 3.895,470, 3.905,490, 3.915,479, 3.925,497, 3.935,483, 3.945,494, 4.025,536, 4.035,547, 4.045,533,
4.055,540, 4.065,529, 4.075,546, 4.085,537, 4.095,526, 4.105,540, 4.115,546, 4.125,531, 4.135,542, 4.145,535, 4.155,528,
4.165,544, 4.175,525, 4.185,535, 4.205,521, 4.215,527, 4.225,513, 4.235,524, 4.245,517, 4.255,530, 4.265,515, 4.275,521,
4.285,506, 4.295,518, 4.305,511, 4.315,525, 4.325,504, 4.335,515, 4.345,520, 4.355,508, 4.365,497, 4.375,512, 4.385,503,
4.395,496, 4.405,509, 4.415,500, 4.425,492, 4.435,513, 4.445,501, 4.455,494, 4.465,507, 4.475,490, 4.485,502, 4.495,509,
4.505,493, 4.515,499, 4.525,487, 4.535,503, 4.545,495, 4.555,508, 4.565,491, 4.575,500, 4.585,485, 4.595,496, 4.605,490,
4.615,475, 4.625,486, 4.635,493, 4.645,477, 4.655,489, 4.665,470, 4.675,484, 4.685,491, 4.695,473, 4.705,481, 4.715,466,
4.725,484, 4.735,476, 4.745,492, 4.755,479, 4.765,486, 4.775,470, 4.785,481, 4.795,494, 4.805,468, 4.815,480, 4.825,492,
4.845,499, 4.865,493, 4.885,490, 4.905,502, 4.925,488, 4.945,496, 4.975,527, 4.995,533, 5.015,529, 5.035,535, 5.055,526,
5.075,540, 5.095,543, 5.115,538, 5.135,545, 5.155,537, 5.175,549, 5.195,541, 5.215,532, 5.235,520, 5.255,529, 5.275,516,
5.295,524, 5.315,517, 5.335,530, 5.355,510, 5.375,504, 5.395,509, 5.415,501, 5.435,495, 5.455,505, 5.475,500, 5.495,493,
5.515,500, 5.535,497, 5.555,490, 5.575,484, 5.595,493, 5.615,479, 5.635,496, 5.655,478, 5.675,491, 5.695,480, 5.715,484,
5.735,466, 5.755,469, 5.775,458, 5.795,452, 5.815,463, 5.835,455, 5.855,470, 5.875,483, 5.895,481, 5.915,492, 5.935,514,
5.955,512, 6.005,533, 6.025,527, 6.045,530, 6.065,528, 6.085,524, 6.105,536, 6.125,533, 6.145,527, 6.165,535, 6.185,525,
6.205,529, 6.225,536, 6.245,514, 6.265,510, 6.285,513, 6.305,505, 6.325,511, 6.345,507, 6.365,502, 6.385,506, 6.405,497,
6.425,506, 6.445,495, 6.465,489, 6.485,480, 6.505,494, 6.525,485, 6.545,490, 6.565,476, 6.585,495, 6.605,479, 6.625,488,
6.645,475, 6.665,484, 6.685,492, 6.705,474, 6.725,470, 6.745,478, 6.765,465, 6.785,460, 6.805,470, 6.825,463, 6.845,481,
6.865,479, 6.885,486, 6.905,494, 6.925,476, 6.945,489, 6.965,492, 6.985,500, 7.005,503, 7.025,509, 7.045,513, 7.065,516,
7.085,507, 7.105,520, 7.125,511, 7.145,521, 7.165,500, 7.185,494, 7.205,497, 7.225,490, 7.245,499, 7.265,492, 7.285,488,
7.305,495, 7.325,491, 7.345,497, 7.365,489, 7.385,495, 7.405,487, 7.425,494, 7.445,498, 7.465,488, 7.485,484, 7.505,488,
7.525,480, 7.545,487, 7.565,482, 7.585,490, 7.605,484, 7.625,494, 7.645,481, 7.665,486, 7.685,475, 7.705,468, 7.725,466,
7.745,477, 7.765,461, 7.785,469, 7.805,456, 7.825,473, 7.845,483, 7.865,477, 7.885,486, 7.905,480
];
const HUN_BLUE = [
1.01,541, 1.012,513, 1.02,507, 1.03,525, 1.04,530, 1.06,515, 1.08,539, 1.10,541, 1.12,535, 1.14,528, 1.16,543, 1.18,533,
1.20,537, 1.22,526, 1.26,533, 1.30,528, 1.32,536, 1.34,518, 1.36,522, 1.38,530, 1.42,534, 1.44,529, 1.46,539, 1.48,535,
1.52,528, 1.56,546, 1.58,537, 1.60,526, 1.60,591, 1.61,588, 1.67,528, 1.68,494, 1.72,520, 1.77,484, 1.83,520, 1.85,517,
1.87,513, 1.89,509, 1.91,535, 1.93,507, 1.95,537, 1.96,532, 1.98,533, 2.02,578, 2.025,572, 2.04,534, 2.08,531, 2.11,530,
2.13,536, 2.16,524, 2.21,530, 2.23,526, 2.25,518, 2.28,537, 2.31,539, 2.33,537, 2.35,464, 2.37,513, 2.40,512, 2.43,515,
2.47,519, 2.51,507, 2.53,513, 2.55,543, 2.59,511, 2.62,530, 2.65,522, 2.69,507, 2.73,505, 2.77,520, 2.79,539, 2.81,534,
2.85,502, 2.88,496, 2.91,503, 2.94,489, 2.96,560, 2.965,571, 3.02,599, 3.03,548, 3.05,545, 3.09,515, 3.13,528, 3.18,545,
3.22,539, 3.28,541, 3.30,547, 3.34,530, 3.40,543, 3.42,547, 3.45,534, 3.50,526, 3.54,537, 3.58,541, 3.62,528, 3.64,532,
3.68,520, 3.70,498, 3.72,505, 3.74,511, 3.78,515, 3.82,511, 3.84,507, 3.88,517, 3.90,504, 3.92,547, 3.925,543, 3.96,500,
3.98,507, 4.02,548, 4.06,567, 4.065,562, 4.10,543, 4.16,541, 4.21,547, 4.23,534, 4.25,504, 4.27,520, 4.30,522, 4.33,515,
4.36,528, 4.39,505, 4.41,532, 4.43,528, 4.45,522, 4.47,534, 4.49,524, 4.51,520, 4.53,526, 4.55,530, 4.58,532, 4.63,532,
4.65,496, 4.69,485, 4.73,472, 4.77,504, 4.775,466, 4.79,481, 4.83,500, 4.87,480, 4.89,535, 4.91,519, 4.93,500, 4.95,507,
5.01,541, 5.05,520, 5.09,519, 5.092,558, 5.11,565, 5.13,561, 5.15,556, 5.17,513, 5.19,528, 5.23,517, 5.25,526, 5.27,522,
5.31,528, 5.35,526, 5.40,535, 5.43,515, 5.44,522, 5.46,524
];

// ---- Tae-ahn Peninsula ----
const KOR_BLACK = [
1.04,520, 1.05,533, 1.06,512, 1.07,541, 1.08,526, 1.09,507, 1.10,537, 1.11,518, 1.12,530, 1.13,543, 1.14,510, 1.15,524,
1.16,538, 1.17,515, 1.18,549, 1.19,506, 1.20,530, 1.21,520, 1.22,544, 1.23,512, 1.24,536, 1.25,526, 1.26,553, 1.27,503,
1.28,533, 1.29,541, 1.30,518, 1.31,535, 1.32,552, 1.33,527, 1.34,590, 1.342,586, 1.345,580, 1.35,544, 1.36,521, 1.37,558,
1.38,532, 1.39,540, 1.40,525, 1.41,549, 1.42,561, 1.43,530, 1.44,538, 1.45,546, 1.46,527, 1.47,552, 1.48,535, 1.49,543,
1.50,529, 1.51,548, 1.52,537, 1.53,554, 1.54,532, 1.55,541, 1.56,526, 1.57,547, 1.58,538, 1.59,544, 1.60,531, 1.61,540,
1.62,522, 1.63,546, 1.64,533, 1.65,518, 1.66,537, 1.665,512, 1.67,495, 1.675,521, 1.68,486, 1.69,503, 1.70,482, 1.71,498,
1.72,489, 1.73,477, 1.74,494, 1.75,470, 1.76,486, 1.77,453, 1.775,462, 1.78,480, 1.79,497, 1.80,472, 1.81,488, 1.82,468,
1.83,483, 1.84,501, 1.85,475, 1.86,491, 1.87,479, 1.88,495, 1.89,484, 1.90,499, 1.91,505, 1.92,496, 1.93,512, 1.94,501,
1.95,519, 1.96,508, 1.97,523, 1.98,498, 1.99,514, 2.00,521, 2.01,535, 2.02,583, 2.022,577, 2.03,512, 2.04,528, 2.05,541,
2.06,518, 2.07,532, 2.08,524, 2.09,538, 2.10,510, 2.11,529, 2.12,543, 2.13,520, 2.14,534, 2.15,526, 2.16,545, 2.17,521,
2.18,552, 2.19,533, 2.20,540, 2.21,518, 2.22,557, 2.23,536, 2.24,527, 2.25,549, 2.26,561, 2.27,531, 2.28,545, 2.29,538,
2.30,553, 2.31,541, 2.32,566, 2.33,549, 2.34,581, 2.345,573, 2.35,537, 2.36,558, 2.37,545, 2.38,569, 2.39,533, 2.40,552,
2.41,561, 2.42,540, 2.43,555, 2.44,547, 2.45,564, 2.46,536, 2.47,551, 2.48,522, 2.49,544, 2.50,530, 2.51,553, 2.52,539,
2.53,518, 2.54,547, 2.55,528, 2.56,541, 2.57,534, 2.58,550, 2.59,524, 2.60,538, 2.61,529, 2.62,541, 2.63,513, 2.64,535,
2.65,520, 2.66,507, 2.67,531, 2.68,516, 2.69,526, 2.70,510, 2.71,497, 2.72,485, 2.73,502, 2.74,476, 2.75,491, 2.76,468,
2.77,483, 2.78,499, 2.79,472, 2.80,461, 2.805,466, 2.81,488, 2.82,477, 2.83,494, 2.84,470, 2.85,486, 2.86,499, 2.87,491,
2.88,508, 2.89,495, 2.90,515, 2.91,503, 2.92,489, 2.93,511, 2.94,498, 2.95,518, 2.96,505, 2.97,512, 2.98,520, 2.99,509,
3.00,528, 3.01,541, 3.02,586, 3.022,580, 3.03,533, 3.04,549, 3.05,524, 3.06,538, 3.07,553, 3.08,530, 3.09,545, 3.10,521,
3.11,536, 3.12,550, 3.13,527, 3.14,542, 3.15,532, 3.16,548, 3.17,525, 3.18,556, 3.19,537, 3.20,580, 3.205,571, 3.21,543,
3.22,529, 3.23,551, 3.24,534, 3.25,522, 3.26,546, 3.27,539, 3.28,555, 3.29,528, 3.30,544, 3.31,536, 3.32,558, 3.33,531,
3.34,549, 3.35,524, 3.36,541, 3.37,553, 3.38,533, 3.39,546, 3.40,538, 3.41,593, 3.412,585, 3.42,557, 3.43,527, 3.44,543,
3.45,535, 3.46,549, 3.47,522, 3.48,540, 3.49,553, 3.50,530, 3.51,545, 3.52,518, 3.53,537, 3.54,550, 3.55,528, 3.56,542,
3.57,534, 3.58,548, 3.59,521, 3.60,539, 3.61,531, 3.62,546, 3.63,525, 3.64,536, 3.65,519, 3.66,505, 3.67,494, 3.68,510,
3.69,489, 3.70,499, 3.71,507, 3.72,492, 3.73,502, 3.74,488, 3.75,496, 3.755,481, 3.76,454, 3.765,468, 3.77,490, 3.78,462,
3.79,477, 3.80,470, 3.81,486, 3.82,459, 3.83,494, 3.84,474, 3.85,483, 3.86,500, 3.87,508, 3.88,496, 3.89,513, 3.90,503,
3.91,518, 3.92,499, 3.93,510, 3.94,505, 3.95,516, 3.96,501, 3.97,520, 3.98,509, 3.99,514, 4.00,524, 4.01,538, 4.02,530,
4.03,549, 4.04,521, 4.05,542, 4.06,534, 4.07,553, 4.08,569, 4.082,562, 4.09,527, 4.10,545, 4.11,536, 4.12,552, 4.13,528,
4.14,547, 4.15,540, 4.16,558, 4.17,531, 4.18,549, 4.19,525, 4.20,543, 4.21,537, 4.22,555, 4.23,530, 4.24,546, 4.25,561,
4.26,541, 4.27,565, 4.28,549, 4.29,572, 4.30,538, 4.31,557, 4.32,546, 4.33,568, 4.34,576, 4.35,543, 4.36,560, 4.37,537,
4.38,553, 4.39,578, 4.40,548, 4.41,540, 4.42,562, 4.43,551, 4.44,498, 4.442,494, 4.45,544, 4.46,555, 4.47,536, 4.48,550,
4.49,541, 4.50,557, 4.51,533, 4.52,546, 4.53,539, 4.54,553, 4.55,535, 4.56,548, 4.57,542, 4.58,556, 4.59,534, 4.60,545,
4.61,527, 4.62,512, 4.63,530, 4.64,505, 4.65,520, 4.66,499, 4.67,515, 4.68,525, 4.69,508, 4.70,518, 4.71,502, 4.72,522,
4.73,511, 4.74,531, 4.75,504, 4.76,496, 4.77,487, 4.78,503, 4.79,481, 4.80,464, 4.805,470, 4.81,492, 4.82,500, 4.83,485,
4.84,495, 4.85,480, 4.86,506, 4.87,489, 4.88,498, 4.89,484, 4.90,508, 4.91,512, 4.92,503, 4.93,519, 4.94,507, 4.95,516,
4.96,522, 4.97,505, 4.98,514, 4.99,509, 5.00,520, 5.01,504, 5.02,517, 5.03,511, 5.04,524, 5.05,506, 5.06,515, 5.07,519,
5.08,508, 5.09,521, 5.10,513, 5.11,527, 5.12,516, 5.13,535, 5.14,521, 5.15,541, 5.16,530, 5.17,514, 5.18,538, 5.19,524,
5.20,532, 5.21,519, 5.22,543, 5.23,528, 5.24,536, 5.25,522, 5.26,545, 5.27,537, 5.28,556, 5.29,541, 5.30,550, 5.31,533,
5.32,559, 5.33,547, 5.34,538, 5.35,591, 5.352,582, 5.355,575, 5.36,553, 5.37,542, 5.38,560, 5.39,535, 5.40,549, 5.41,540,
5.42,552, 5.43,528, 5.44,545, 5.45,536, 5.46,553, 5.47,531, 5.48,547, 5.49,525, 5.50,541, 5.51,533, 5.52,550, 5.53,527,
5.54,544, 5.55,537, 5.56,530, 5.57,518, 5.58,536, 5.59,511, 5.60,527, 5.61,522, 5.62,539, 5.63,508, 5.64,525, 5.65,516,
5.66,533, 5.67,506, 5.68,520, 5.69,529, 5.70,512, 5.71,500, 5.72,488, 5.73,497, 5.74,482, 5.75,504, 5.76,491, 5.77,479,
5.78,495, 5.79,486, 5.80,499, 5.81,476, 5.82,487, 5.83,469, 5.84,481, 5.85,472, 5.86,463, 5.865,467, 5.87,485, 5.88,474,
5.89,490, 5.90,478, 5.91,483, 5.92,470, 5.93,488, 5.94,480, 5.95,491, 5.96,498, 5.97,505, 5.98,493, 5.99,511, 6.00,501,
6.01,516, 6.02,496, 6.03,508, 6.04,513, 6.05,503, 6.06,520, 6.07,532, 6.08,514, 6.09,541, 6.10,526, 6.11,510, 6.12,598,
6.13,536, 6.14,519, 6.15,545, 6.16,529, 6.17,512, 6.18,538, 6.19,524, 6.20,547, 6.21,516, 6.22,533, 6.23,541, 6.24,521,
6.25,536, 6.26,548, 6.27,531, 6.28,556, 6.29,540, 6.30,553, 6.31,534, 6.32,560, 6.33,545, 6.34,529, 6.35,551, 6.36,538,
6.37,558, 6.38,542, 6.39,533, 6.40,555, 6.41,547, 6.42,561, 6.43,536, 6.44,550, 6.45,544, 6.46,553, 6.47,538, 6.48,548,
6.49,542, 6.50,554, 6.51,536, 6.52,550, 6.53,545, 6.54,539, 6.55,552, 6.56,541, 6.57,547, 6.58,535, 6.59,551, 6.60,543,
6.61,549, 6.62,537, 6.63,526, 6.635,514, 6.64,507, 6.645,520, 6.65,512, 6.66,528, 6.67,497, 6.68,484, 6.69,502, 6.70,476,
6.71,491, 6.72,455, 6.722,462, 6.73,486, 6.74,471, 6.75,499, 6.76,480, 6.77,493, 6.78,469, 6.79,488, 6.80,504, 6.81,477,
6.82,495, 6.83,483, 6.84,498, 6.85,474, 6.86,503, 6.87,491, 6.88,511, 6.89,497, 6.90,516, 6.91,494, 6.92,508, 6.93,487,
6.94,513, 6.95,500, 6.96,519, 6.97,505, 6.98,494, 6.99,512, 7.00,507, 7.01,521, 7.02,510, 7.03,532, 7.04,515, 7.05,527,
7.06,538, 7.07,512, 7.08,524, 7.09,535, 7.10,506, 7.11,529, 7.12,518, 7.13,539, 7.14,522, 7.15,531, 7.16,509, 7.17,526,
7.18,536, 7.19,517, 7.20,530, 7.21,597, 7.212,591, 7.215,583, 7.22,541, 7.23,527, 7.24,553, 7.25,535, 7.26,546, 7.27,522,
7.28,558, 7.29,539, 7.30,531, 7.31,549, 7.32,525, 7.33,544, 7.34,561, 7.35,533, 7.36,550, 7.37,591, 7.372,580, 7.375,572,
7.38,538, 7.39,555, 7.40,528, 7.41,546, 7.42,534, 7.43,552, 7.44,521, 7.45,541, 7.46,549, 7.47,529, 7.48,544, 7.49,537,
7.50,554, 7.51,518, 7.52,540, 7.53,532, 7.54,547, 7.55,526, 7.56,538, 7.57,529, 7.58,542, 7.59,505, 7.60,533, 7.61,540,
7.62,526, 7.63,536, 7.64,530, 7.65,524, 7.66,511, 7.67,496, 7.68,517, 7.69,485, 7.70,503, 7.71,476, 7.72,492, 7.73,450,
7.732,458, 7.74,481, 7.75,507, 7.76,469, 7.77,488, 7.78,474, 7.79,498, 7.80,466, 7.81,491, 7.82,479, 7.83,502, 7.84,485,
7.85,496, 7.86,474, 7.87,489, 7.88,505, 7.89,481, 7.90,494, 7.91,486,
1.045,528, 1.055,515, 1.065,537, 1.075,509, 1.085,531, 1.095,522, 1.105,513, 1.115,540, 1.125,519, 1.135,527, 1.145,535,
1.155,512, 1.165,547, 1.175,527, 1.185,518, 1.195,541, 1.205,510, 1.215,533, 1.225,525, 1.235,548, 1.245,514, 1.255,539,
1.265,529, 1.275,545, 1.285,520, 1.295,530, 1.305,548, 1.315,524, 1.325,541, 1.335,535, 1.355,529, 1.365,551, 1.375,537,
1.385,546, 1.395,528, 1.405,556, 1.415,534, 1.425,545, 1.435,522, 1.445,551, 1.455,535, 1.465,543, 1.475,530, 1.485,548,
1.495,537, 1.505,526, 1.515,541, 1.525,531, 1.535,546, 1.545,524, 1.555,550, 1.565,534, 1.575,540, 1.585,529, 1.595,550,
1.605,525, 1.615,536, 1.625,543, 1.635,520, 1.645,541, 1.655,528, 1.685,497, 1.695,484, 1.705,492, 1.715,474, 1.725,497,
1.735,485, 1.745,470, 1.755,491, 1.765,477, 1.785,466, 1.795,485, 1.805,493, 1.815,478, 1.825,490, 1.835,472, 1.845,486,
1.855,496, 1.865,482, 1.875,473, 1.885,488, 1.895,480, 1.905,495, 1.915,511, 1.925,502, 1.935,520, 1.945,497, 1.955,510,
1.965,515, 1.975,504, 1.985,522, 1.995,507, 2.005,512, 2.015,527, 2.035,537, 2.045,518, 2.055,531, 2.065,526, 2.075,543,
2.085,513, 2.095,530, 2.105,537, 2.115,520, 2.125,531, 2.135,515, 2.145,541, 2.155,531, 2.165,527, 2.175,540, 2.185,523,
2.195,546, 2.205,535, 2.215,528, 2.225,544, 2.235,520, 2.245,539, 2.255,533, 2.265,548, 2.275,525, 2.285,555, 2.295,544,
2.305,534, 2.315,551, 2.325,542, 2.335,560, 2.355,548, 2.365,537, 2.375,556, 2.385,542, 2.395,563, 2.405,545, 2.415,552,
2.425,534, 2.435,566, 2.445,540, 2.455,549, 2.465,528, 2.475,542, 2.485,533, 2.495,548, 2.505,521, 2.515,544, 2.525,531,
2.535,549, 2.545,536, 2.555,520, 2.565,546, 2.575,526, 2.585,539, 2.595,531, 2.605,520, 2.615,535, 2.625,524, 2.635,540,
2.645,511, 2.655,528, 2.665,518, 2.675,506, 2.685,535, 2.695,515, 2.705,501, 2.715,489, 2.725,495, 2.735,480, 2.745,488,
2.755,474, 2.765,493, 2.775,478, 2.785,486, 2.795,466, 2.815,474, 2.825,491, 2.835,481, 2.845,498, 2.855,478, 2.865,492,
2.875,503, 2.885,497, 2.895,488, 2.905,509, 2.915,496, 2.925,515, 2.935,505, 2.945,492, 2.955,510, 2.965,499, 2.975,516,
2.985,503, 2.995,518, 3.005,535, 3.015,524, 3.035,545, 3.045,532, 3.055,543, 3.065,527, 3.075,539, 3.085,548, 3.095,530,
3.105,540, 3.115,527, 3.125,535, 3.135,551, 3.145,529, 3.155,539, 3.165,554, 3.175,533, 3.185,544, 3.195,524, 3.215,551,
3.225,538, 3.235,545, 3.245,530, 3.255,553, 3.265,527, 3.275,543, 3.285,535, 3.295,549, 3.305,523, 3.315,541, 3.325,550,
3.335,538, 3.345,529, 3.355,555, 3.365,533, 3.375,546, 3.385,522, 3.395,541, 3.405,550, 3.425,536, 3.435,548, 3.445,524,
3.455,541, 3.465,532, 3.475,551, 3.485,528, 3.495,539, 3.505,546, 3.515,526, 3.525,543, 3.535,530, 3.545,521, 3.555,545,
3.565,529, 3.575,540, 3.585,532, 3.595,550, 3.605,524, 3.615,541, 3.625,533, 3.635,545, 3.645,522, 3.655,513, 3.665,499,
3.675,508, 3.685,496, 3.695,510, 3.705,491, 3.715,500, 3.725,508, 3.735,494, 3.745,503, 3.775,475, 3.785,491, 3.795,466,
3.805,482, 3.815,473, 3.825,488, 3.835,478, 3.845,496, 3.855,489, 3.865,505, 3.875,497, 3.885,503, 3.895,498, 3.905,511,
3.915,502, 3.925,515, 3.935,500, 3.945,518, 3.955,506, 3.965,511, 3.975,503, 3.985,517, 3.995,530, 4.005,545, 4.015,527,
4.025,540, 4.035,533, 4.045,550, 4.055,529, 4.065,544, 4.075,526, 4.095,538, 4.105,529, 4.115,548, 4.125,541, 4.135,533,
4.145,556, 4.155,527, 4.165,545, 4.175,538, 4.185,554, 4.195,533, 4.205,550, 4.215,529, 4.225,541, 4.235,549, 4.245,535,
4.255,552, 4.265,545, 4.275,555, 4.285,539, 4.295,562, 4.305,548, 4.315,541, 4.325,555, 4.335,547, 4.345,563, 4.355,551,
4.365,545, 4.375,570, 4.385,540, 4.395,558, 4.405,566, 4.415,549, 4.425,542, 4.435,557, 4.455,536, 4.465,549, 4.475,545,
4.485,538, 4.495,550, 4.505,541, 4.515,555, 4.525,537, 4.535,549, 4.545,544, 4.555,532, 4.565,552, 4.575,538, 4.585,545,
4.595,540, 4.605,530, 4.615,521, 4.625,533, 4.635,515, 4.645,527, 4.655,508, 4.665,522, 4.675,504, 4.685,519, 4.695,528,
4.705,510, 4.715,524, 4.725,505, 4.735,517, 4.745,500, 4.755,509, 4.765,493, 4.775,505, 4.785,490, 4.795,497, 4.815,484,
4.825,495, 4.835,503, 4.845,488, 4.855,499, 4.865,491, 4.875,502, 4.885,486, 4.895,495, 4.905,515, 4.915,506, 4.925,511,
4.935,502, 4.945,520, 4.955,510, 4.965,517, 4.975,512, 4.985,521, 4.995,514, 5.005,509, 5.015,522, 5.025,513, 5.035,507,
5.045,518, 5.055,523, 5.065,510, 5.075,526, 5.085,517, 5.095,530, 5.105,522, 5.115,519, 5.125,539, 5.135,526, 5.145,532,
5.155,519, 5.165,537, 5.175,528, 5.185,543, 5.195,517, 5.205,538, 5.215,530, 5.225,535, 5.235,523, 5.245,541, 5.255,538,
5.265,552, 5.275,544, 5.285,535, 5.295,558, 5.305,543, 5.315,552, 5.325,540, 5.335,554, 5.345,546, 5.365,537, 5.375,555,
5.385,544, 5.395,556, 5.405,531, 5.415,547, 5.425,538, 5.435,551, 5.445,530, 5.455,544, 5.465,539, 5.475,550, 5.485,533,
5.495,546, 5.505,528, 5.515,541, 5.525,536, 5.535,548, 5.545,530, 5.555,542, 5.565,524, 5.575,535, 5.585,527, 5.595,534,
5.605,515, 5.615,530, 5.625,519, 5.635,535, 5.645,512, 5.655,521, 5.665,527, 5.675,514, 5.685,509, 5.695,520, 5.705,494,
5.715,503, 5.725,483, 5.735,492, 5.745,500, 5.755,486, 5.765,496, 5.775,484, 5.785,490, 5.795,480, 5.805,488, 5.815,481,
5.825,475, 5.835,489, 5.845,476, 5.855,484, 5.875,479, 5.885,468, 5.895,484, 5.905,472, 5.915,489, 5.925,477, 5.935,492,
5.945,486, 5.955,495, 5.965,510, 5.975,500, 5.985,508, 5.995,496, 6.005,509, 6.015,504, 6.025,512, 6.035,500, 6.045,517,
6.055,527, 6.065,513, 6.075,524, 6.085,536, 6.095,518, 6.105,540, 6.115,530, 6.125,522, 6.135,543, 6.145,528, 6.155,536,
6.165,521, 6.175,541, 6.185,531, 6.195,538, 6.205,527, 6.215,540, 6.225,524, 6.235,546, 6.245,530, 6.255,542, 6.265,537,
6.275,550, 6.285,533, 6.295,547, 6.305,540, 6.315,555, 6.325,537, 6.335,551, 6.345,542, 6.355,558, 6.365,546, 6.375,535,
6.385,552, 6.395,540, 6.405,549, 6.415,533, 6.425,556, 6.435,544, 6.445,539, 6.455,549, 6.465,543, 6.475,551, 6.485,537,
6.495,546, 6.505,541, 6.515,552, 6.525,540, 6.535,548, 6.545,544, 6.555,537, 6.565,553, 6.575,540, 6.585,546, 6.595,538,
6.605,552, 6.615,541, 6.655,516, 6.665,509, 6.675,490, 6.685,499, 6.695,481, 6.705,495, 6.715,485, 6.725,477, 6.735,494,
6.745,482, 6.755,490, 6.765,472, 6.775,485, 6.785,496, 6.795,478, 6.805,491, 6.815,485, 6.825,499, 6.835,480, 6.845,490,
6.855,494, 6.865,498, 6.875,506, 6.885,493, 6.895,505, 6.905,509, 6.915,499, 6.925,514, 6.935,496, 6.945,506, 6.955,512,
6.965,502, 6.975,516, 6.985,509, 6.995,518, 7.005,514, 7.015,530, 7.025,518, 7.035,525, 7.045,535, 7.055,516, 7.065,528,
7.075,533, 7.085,519, 7.095,526, 7.105,514, 7.115,536, 7.125,524, 7.135,532, 7.145,513, 7.155,537, 7.165,520, 7.175,532,
7.185,526, 7.195,540, 7.205,523, 7.225,534, 7.235,546, 7.245,528, 7.255,541, 7.265,552, 7.275,534, 7.285,546, 7.295,526,
7.305,553, 7.315,538, 7.325,545, 7.335,532, 7.345,555, 7.355,542, 7.365,536, 7.385,548, 7.395,530, 7.405,544, 7.415,537,
7.425,549, 7.435,527, 7.445,545, 7.455,536, 7.465,551, 7.475,533, 7.485,541, 7.495,528, 7.505,547, 7.515,535, 7.525,550,
7.535,524, 7.545,539, 7.555,532, 7.565,542, 7.575,535, 7.585,528, 7.595,540, 7.605,525, 7.615,533, 7.625,539, 7.635,528,
7.645,542, 7.655,520, 7.665,506, 7.675,489, 7.685,509, 7.695,478, 7.705,496, 7.715,484, 7.725,470, 7.735,466, 7.745,490,
7.755,475, 7.765,497, 7.775,480, 7.785,468, 7.795,485, 7.805,476, 7.815,498, 7.825,486, 7.835,492, 7.845,478, 7.855,501,
7.865,483, 7.875,495, 7.885,477, 7.895,490, 7.905,482
];
const KOR_BLUE = [
1.02,495, 1.06,508, 1.065,504, 1.11,513, 1.14,522, 1.16,539, 1.20,550, 1.21,593, 1.24,545, 1.26,532, 1.28,556, 1.30,541,
1.31,536, 1.34,562, 1.36,556, 1.38,539, 1.41,568, 1.43,549, 1.47,567, 1.475,570, 1.49,558, 1.51,549, 1.54,593, 1.545,586,
1.55,562, 1.56,565, 1.59,590, 1.61,550, 1.63,545, 1.64,554, 1.66,515, 1.67,491, 1.69,472, 1.73,476, 1.77,483, 1.81,558,
1.815,562, 1.83,478, 1.85,475, 1.86,466, 1.865,461, 1.89,470, 1.91,462, 1.99,478, 2.03,485, 2.09,500, 2.11,502, 2.15,513,
2.19,524, 2.21,549, 2.27,530, 2.31,511, 2.38,575, 2.385,571, 2.46,515, 2.47,494, 2.52,556, 2.54,588, 2.545,578, 2.58,558,
2.64,539, 2.66,513, 2.68,511, 2.70,493, 2.72,511, 2.76,480, 2.80,480, 2.81,468, 2.815,453, 2.84,476, 2.86,466, 2.90,466,
2.94,509, 2.98,494, 3.00,506, 3.04,554, 3.13,590, 3.135,586, 3.17,560, 3.25,522, 3.29,541, 3.33,528, 3.39,578, 3.395,585,
3.45,528, 3.49,534, 3.53,573, 3.55,563, 3.59,569, 3.61,573, 3.67,556, 3.71,500, 3.75,491, 3.77,481, 3.78,468, 3.79,465,
3.81,461, 3.83,572, 3.85,498, 3.89,474, 3.94,498, 3.96,506, 4.02,593, 4.04,511, 4.06,509, 4.08,519, 4.16,513, 4.17,509,
4.22,528, 4.26,545, 4.30,508, 4.34,519, 4.40,550, 4.44,577, 4.46,580, 4.54,552, 4.56,584, 4.58,590, 4.60,591, 4.66,504,
4.68,498, 4.70,491, 4.72,545, 4.73,549, 4.77,470, 4.79,459, 4.83,465, 4.85,457, 4.89,537, 4.91,526, 4.93,530, 4.97,480,
4.975,465, 4.99,506, 5.01,498, 5.05,522, 5.11,513, 5.13,532, 5.15,521, 5.17,537, 5.19,517, 5.23,517, 5.25,530, 5.29,519,
5.31,530, 5.35,539, 5.37,532, 5.39,543, 5.41,578, 5.43,575, 5.44,569, 5.445,565, 5.432,550, 5.45,536, 5.47,534
];

// Reshape flat lists into the point objects Chart.js expects.
function points(list) {
  const out = [];
  for (let i = 0; i + 1 < list.length; i += 2) out.push({ x: list[i], y: list[i + 1] });
  return out;
}
function spreads(list) {
  const out = [];
  for (let i = 0; i + 2 < list.length; i += 3) out.push({ x: list[i], y: [list[i + 1], list[i + 2]] });
  return out;
}

const FONT = 'DejaVu Sans';
const INK = '#111';

// Box around the plot area with inward tick marks on all four sides.
const framePlugin = {
  id: 'frame',
  afterDatasetsDraw(chart) {
    const { ctx, chartArea: a, scales: { x, y } } = chart;
    const L = Math.round(a.left) + 0.5, R = Math.round(a.right) - 0.5;
    const T = Math.round(a.top) + 0.5, B = Math.round(a.bottom) - 0.5;
    ctx.save();
    ctx.strokeStyle = '#222';
    ctx.lineWidth = 1;
    ctx.strokeRect(L, T, R - L, B - T);
    ctx.beginPath();
    YEAR_TICKS.forEach(v => {
      const px = Math.round(x.getPixelForValue(v)) + 0.5;
      ctx.moveTo(px, B); ctx.lineTo(px, B - 4);
      ctx.moveTo(px, T); ctx.lineTo(px, T + 4);
    });
    PPB_TICKS.forEach(v => {
      const py = Math.round(y.getPixelForValue(v)) + 0.5;
      ctx.moveTo(L, py); ctx.lineTo(L + 4, py);
      ctx.moveTo(R, py); ctx.lineTo(R - 4, py);
    });
    ctx.stroke();
    ctx.restore();
  }
};

function dots(list, color, radius, order) {
  return {
    data: points(list),
    pointBackgroundColor: color,
    backgroundColor: color,
    pointBorderWidth: 0,
    borderWidth: 0,
    pointRadius: radius,
    pointHoverRadius: radius,
    order: order
  };
}

function panel(id, title, datasets) {
  new Chart(document.getElementById(id), {
    type: 'scatter',
    data: { datasets },
    options: {
      responsive: false,
      animation: false,
      devicePixelRatio: 1,
      events: [],
      layout: { padding: { left: 0, right: 1, top: 0, bottom: 0 } },
      plugins: {
        legend: { display: false },
        tooltip: { enabled: false },
        title: {
          display: true, text: title, fullSize: false, color: INK,
          font: { family: FONT, size: 10.3, weight: 'normal' },
          padding: { top: 13, bottom: 7 }
        }
      },
      scales: {
        x: {
          type: 'linear', min: 1, max: 7.91, offset: false,
          grid: { display: false, drawTicks: false },
          border: { display: false },
          afterBuildTicks: s => { s.ticks = YEAR_TICKS.map(v => ({ value: v })); },
          afterFit: s => { s.height = 20; },
          ticks: {
            autoSkip: false, maxRotation: 0, padding: 4, color: INK,
            font: { family: FONT, size: 12 },
            callback: (v, i) => YEAR_LABELS[i]
          }
        },
        y: {
          type: 'linear', min: 400, max: 600, beginAtZero: false,
          grid: { display: false, drawTicks: false },
          border: { display: false },
          afterBuildTicks: s => { s.ticks = PPB_TICKS.map(v => ({ value: v })); },
          afterFit: s => { s.width = 60; },
          ticks: { padding: 6, color: INK, font: { family: FONT, size: 12 } },
          title: {
            display: true, text: 'H\u2082 [ppb]', color: INK,
            font: { family: FONT, size: 14 }, padding: { top: 11, bottom: 0 }
          }
        }
      }
    },
    plugins: [framePlugin]
  });
}

Chart.defaults.font.family = FONT;

panel('asc', TITLES[0], [
  dots(ASC_BLUE, '#0000ff', 2.3, 3),
  dots(ASC_BLACK, '#000000', 2.1, 1)
]);

panel('cgo', TITLES[1], [
  { type: 'bar', data: spreads(CGO_GRAY), backgroundColor: '#bebebe', borderWidth: 0,
    barThickness: 3, grouped: false, order: 4 },
  dots(CGO_BLUE, '#0000ff', 2.3, 3),
  dots(CGO_RED, '#ff0000', 2.2, 2),
  dots(CGO_BLACK, '#000000', 1.4, 1)
]);

panel('hun', TITLES[2], [
  dots(HUN_BLUE, '#0000ff', 2.3, 3),
  dots(HUN_BLACK, '#000000', 1.4, 1)
]);

panel('kor', TITLES[3], [
  dots(KOR_BLUE, '#0000ff', 2.3, 3),
  dots(KOR_BLACK, '#000000', 1.4, 1)
]);
</script>
</body>
</html>
